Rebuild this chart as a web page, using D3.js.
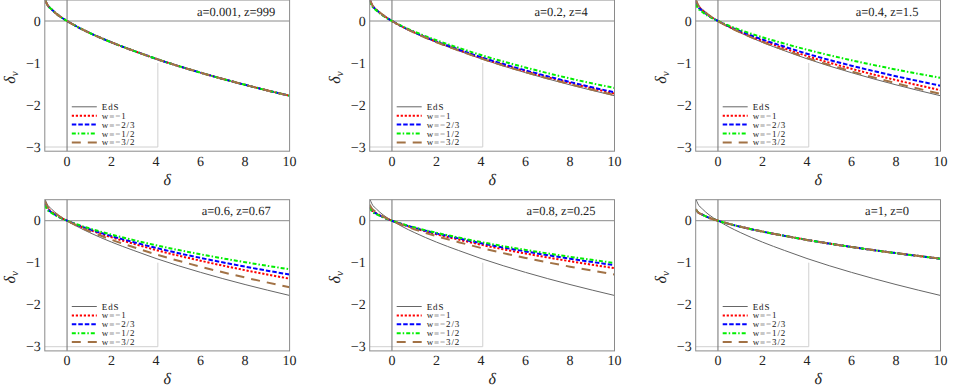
<!DOCTYPE html>
<meta charset="utf-8">
<script src="https://d3js.org/d3.v7.min.js"></script>
<style>
  body { margin: 0; background: #fff; }
  svg text { font-family: "Liberation Serif", "Times New Roman", Times, serif; fill: #222; }
</style>
<div id="my_dataviz"></div>
<script>
  // sample points along delta (x axis)
  const deltaGrid = [-1, -0.9, -0.7, -0.4, 0, 0.5, 1, 2, 3, 4, 6, 8, 10];

  const panelTitles = ["a=0.001,  z=999", "a=0.2, z=4", "a=0.4, z=1.5",
                       "a=0.6, z=0.67", "a=0.8, z=0.25", "a=1, z=0"];
  const seriesNames = ["EdS", "w=\u22121", "w=\u22122/3", "w=\u22121/2", "w=\u22123/2"];
  const xTicks = [0, 2, 4, 6, 8, 10];
  const yTicks = [0, -1, -2, -3];

  // Einstein-de Sitter curve, same in every panel
  const edsValues = [0.53, 0.40, 0.28, 0.14, 0, -0.15, -0.28, -0.51, -0.71, -0.90, -1.23, -1.52, -1.78];

  // one row per panel
  const wMinus1 = [
    [0.53, 0.40, 0.28, 0.14, 0, -0.15, -0.28, -0.51, -0.71, -0.90, -1.23, -1.52, -1.78],
    [0.52, 0.39, 0.27, 0.14, 0, -0.146, -0.272, -0.496, -0.69, -0.875, -1.196, -1.477, -1.73],
    [0.49, 0.37, 0.26, 0.13, 0, -0.139, -0.259, -0.472, -0.657, -0.833, -1.138, -1.406, -1.647],
    [0.43, 0.32, 0.22, 0.11, 0, -0.116, -0.217, -0.395, -0.55, -0.698, -0.953, -1.178, -1.38],
    [0.34, 0.254, 0.178, 0.089, 0, -0.095, -0.178, -0.324, -0.451, -0.572, -0.781, -0.965, -1.13],
    [0.27, 0.203, 0.142, 0.071, 0, -0.076, -0.142, -0.259, -0.361, -0.457, -0.625, -0.772, -0.904]
  ];
  const wMinus2over3 = [
    [0.53, 0.40, 0.28, 0.14, 0, -0.15, -0.28, -0.51, -0.71, -0.90, -1.23, -1.52, -1.78],
    [0.51, 0.382, 0.267, 0.134, 0, -0.143, -0.267, -0.487, -0.678, -0.86, -1.175, -1.452, -1.70],
    [0.46, 0.346, 0.242, 0.121, 0, -0.13, -0.242, -0.441, -0.614, -0.779, -1.064, -1.315, -1.54],
    [0.40, 0.29, 0.205, 0.101, 0, -0.108, -0.202, -0.367, -0.511, -0.648, -0.886, -1.094, -1.282],
    [0.32, 0.238, 0.167, 0.083, 0, -0.089, -0.167, -0.303, -0.422, -0.536, -0.732, -0.904, -1.059],
    [0.27, 0.203, 0.142, 0.071, 0, -0.076, -0.142, -0.259, -0.361, -0.457, -0.625, -0.772, -0.905]
  ];
  const wMinus1over2 = [
    [0.53, 0.40, 0.28, 0.14, 0, -0.15, -0.28, -0.51, -0.71, -0.90, -1.23, -1.52, -1.78],
    [0.477, 0.36, 0.252, 0.126, 0, -0.135, -0.252, -0.459, -0.639, -0.81, -1.107, -1.368, -1.595],
    [0.403, 0.304, 0.213, 0.106, 0, -0.114, -0.213, -0.388, -0.54, -0.684, -0.935, -1.155, -1.353],
    [0.37, 0.27, 0.185, 0.091, 0, -0.098, -0.182, -0.332, -0.462, -0.585, -0.80, -0.988, -1.157],
    [0.31, 0.226, 0.158, 0.079, 0, -0.085, -0.158, -0.288, -0.401, -0.509, -0.695, -0.859, -1.006],
    [0.27, 0.203, 0.142, 0.071, 0, -0.076, -0.142, -0.259, -0.361, -0.457, -0.625, -0.772, -0.904]
  ];
  const wMinus3over2 = [
    [0.53, 0.40, 0.28, 0.14, 0, -0.15, -0.28, -0.51, -0.71, -0.90, -1.23, -1.52, -1.78],
    [0.525, 0.396, 0.277, 0.139, 0, -0.149, -0.277, -0.505, -0.703, -0.891, -1.218, -1.505, -1.762],
    [0.517, 0.39, 0.273, 0.137, 0, -0.146, -0.273, -0.497, -0.692, -0.878, -1.199, -1.482, -1.736],
    [0.472, 0.356, 0.249, 0.125, 0, -0.134, -0.249, -0.454, -0.632, -0.801, -1.095, -1.353, -1.584],
    [0.382, 0.288, 0.202, 0.101, 0, -0.108, -0.202, -0.367, -0.511, -0.648, -0.886, -1.094, -1.282],
    [0.27, 0.203, 0.142, 0.071, 0, -0.076, -0.142, -0.259, -0.361, -0.457, -0.625, -0.772, -0.904]
  ];

  // line styles: EdS, w=-1, w=-2/3, w=-1/2, w=-3/2
  const styles = [
    {color: "#666", width: 1, dash: null},
    {color: "#ff0000", width: 2, dash: "2.2,1.8"},
    {color: "#0000ff", width: 2, dash: "4.5,2"},
    {color: "#00ee00", width: 2, dash: "4,2,1.5,2"},
    {color: "#a27245", width: 2, dash: "9,7"}
  ];

  const W = 954, H = 387;
  const colLeft = [44.8, 369.7, 695.7];
  const rowTop = [0, 199.7];
  const plotW = 244.8, plotH = 151.2;
  const serif = "'Liberation Serif', 'Times New Roman', Times, serif";

  const svg = d3.select("#my_dataviz")
    .append("svg")
      .attr("width", W)
      .attr("height", H)
      .attr("font-family", serif)
      .attr("text-rendering", "geometricPrecision");

  panelTitles.forEach(function(title, p) {
    const left = colLeft[p % 3], top = rowTop[Math.floor(p / 3)];

    const x = d3.scaleLinear().domain([-1, 10]).range([left, left + plotW]);
    const y = d3.scaleLinear().domain([-3.1, 0.5]).range([top + plotH, top]);

    const g = svg.append("g");

    g.append("clipPath").attr("id", "clip" + p)
      .append("rect")
        .attr("x", left).attr("y", top)
        .attr("width", plotW).attr("height", plotH);

    // legend box (right and bottom edges only)
    g.append("path")
      .attr("d", `M${x(-1)},${y(-3)} H${x(4.08)} V${y(-1)}`)
      .attr("fill", "none")
      .attr("stroke", "#d0d0d0")
      .attr("stroke-width", 1);

    // zero axes
    g.append("line")
      .attr("x1", x(-1)).attr("x2", x(10))
      .attr("y1", y(0)).attr("y2", y(0))
      .attr("stroke", "#8a8a8a").attr("stroke-width", 1);
    g.append("line")
      .attr("x1", x(0)).attr("x2", x(0))
      .attr("y1", y(0.5)).attr("y2", y(-3.1))
      .attr("stroke", "#707070").attr("stroke-width", 1);

    // curves
    const allSeries = [edsValues, wMinus1[p], wMinus2over3[p], wMinus1over2[p], wMinus3over2[p]];
    const line = d3.line()
      .x((d, i) => x(deltaGrid[i]))
      .y(d => y(d))
      .curve(d3.curveMonotoneX);

    allSeries.forEach(function(vals, s) {
      g.append("path")
        .datum(vals)
        .attr("clip-path", `url(#clip${p})`)
        .attr("d", line)
        .attr("fill", "none")
        .attr("stroke", styles[s].color)
        .attr("stroke-width", styles[s].width)
        .attr("stroke-dasharray", styles[s].dash);
    });

    // frame
    g.append("rect")
      .attr("x", left).attr("y", top)
      .attr("width", plotW).attr("height", plotH)
      .attr("fill", "none")
      .attr("stroke", "#8a8a8a")
      .attr("stroke-width", 1);

    // tick labels
    g.selectAll(".xt")
      .data(xTicks)
      .join("text")
        .attr("x", d => x(d))
        .attr("y", top + plotH + 14.3)
        .attr("text-anchor", "middle")
        .attr("font-size", 14)
        .text(d => d);

    g.selectAll(".yt")
      .data(yTicks)
      .join("text")
        .attr("x", left - 4)
        .attr("y", d => y(d))
        .attr("dy", "0.34em")
        .attr("text-anchor", "end")
        .attr("font-size", 14)
        .text(d => d < 0 ? "\u2212" + Math.abs(d) : d);

    // axis labels
    g.append("text")
      .attr("x", left + plotW / 2)
      .attr("y", top + plotH + 33.5)
      .attr("text-anchor", "middle")
      .attr("font-size", 16)
      .attr("font-style", "italic")
      .text("\u03b4");

    const yl = g.append("text")
      .attr("transform", `translate(${left - 30},${top + plotH / 2 + 2}) rotate(-90)`)
      .attr("text-anchor", "middle")
      .attr("font-size", 16)
      .attr("font-style", "italic");
    yl.append("tspan").text("\u03b4");
    yl.append("tspan").attr("font-size", 11).attr("dy", 3).text("v");

    // panel title
    g.append("text")
      .attr("x", x(7.6))
      .attr("y", top + 15.5)
      .attr("text-anchor", "middle")
      .attr("font-size", 12.5)
      .text(title);

    // legend
    seriesNames.forEach(function(name, s) {
      const ly = top + 106.8 + s * 8.9;
      g.append("line")
        .attr("x1", left + 27).attr("x2", left + 52)
        .attr("y1", ly).attr("y2", ly)
        .attr("stroke", styles[s].color)
        .attr("stroke-width", styles[s].width)
        .attr("stroke-dasharray", styles[s].dash);
      g.append("text")
        .attr("x", left + 57)
        .attr("y", ly + 3)
        .attr("font-size", 9)
        .attr("letter-spacing", 0.9)
        .text(name);
    });
  });
</script>
